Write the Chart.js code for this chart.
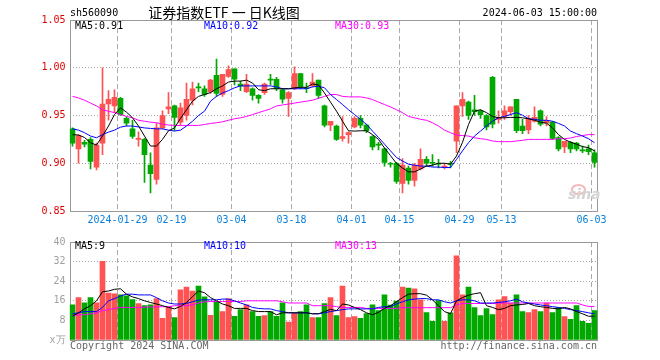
<!DOCTYPE html>
<html lang="zh">
<head>
<meta charset="UTF-8">
<title>证券指数ETF 日K线图</title>
<script src="https://cdn.jsdelivr.net/npm/chart.js@4/dist/chart.umd.min.js"></script>
<style>
  body { margin: 0; background: #fff; }
  #wrap { position: relative; width: 660px; height: 360px; overflow: hidden; }
  canvas { position: absolute; left: 0; }
  .t { position: absolute; font: 10px 'DejaVu Sans Mono', 'Liberation Mono', monospace; line-height: 12px; white-space: pre; }
  .eye { position: absolute; left: 571px; top: 184px; width: 11px; height: 7px; border: 2px solid #f6b8b8; border-radius: 50%; }
</style>
</head>
<body>
<div id="wrap">
  <canvas id="k" width="660" height="232" style="top:0"></canvas>
  <canvas id="v" width="660" height="128" style="top:232px"></canvas>

  <div class="t" style="left:70px;top:7px;color:#000">sh560090</div>
  <div class="t" style="left:224px;top:4px;transform:translateX(-50%);font:14px 'Noto Sans CJK SC',sans-serif;line-height:16px;color:#000">证券指数ETF 一 日K线图</div>
  <div class="t" style="right:63px;top:7px;color:#000">2024-06-03 15:00:00</div>

  <div class="t" style="left:75px;top:20px;color:#000">MA5:0.91</div>
  <div class="t" style="left:204px;top:20px;color:#0000ff">MA10:0.92</div>
  <div class="t" style="left:335px;top:20px;color:#ff00ff">MA30:0.93</div>

  <div class="eye"></div>
  <div class="t" style="left:568px;top:187px;font:italic bold 14px 'DejaVu Sans',sans-serif;line-height:14px;color:#d4d4d4">sina</div>

  <div class="t" style="left:75px;top:240px;color:#000">MA5:9</div>
  <div class="t" style="left:204px;top:240px;color:#0000ff">MA10:10</div>
  <div class="t" style="left:335px;top:240px;color:#ff00ff">MA30:13</div>

  <div class="t" style="left:70px;top:340px;color:#666">Copyright 2024 SINA.COM</div>
  <div class="t" style="right:63px;top:340px;color:#666">http://finance.sina.com.cn</div>
</div>

<script>
// trading days
const dates = ['2024-01-17','2024-01-18','2024-01-19','2024-01-22','2024-01-23','2024-01-24','2024-01-25','2024-01-26',
  '2024-01-29','2024-01-30','2024-01-31','2024-02-01','2024-02-02','2024-02-05','2024-02-06','2024-02-07','2024-02-08',
  '2024-02-19','2024-02-20','2024-02-21','2024-02-22','2024-02-23',
  '2024-02-26','2024-02-27','2024-02-28','2024-02-29','2024-03-01',
  '2024-03-04','2024-03-05','2024-03-06','2024-03-07','2024-03-08',
  '2024-03-11','2024-03-12','2024-03-13','2024-03-14','2024-03-15',
  '2024-03-18','2024-03-19','2024-03-20','2024-03-21','2024-03-22',
  '2024-03-25','2024-03-26','2024-03-27','2024-03-28','2024-03-29',
  '2024-04-01','2024-04-02','2024-04-03',
  '2024-04-08','2024-04-09','2024-04-10','2024-04-11','2024-04-12',
  '2024-04-15','2024-04-16','2024-04-17','2024-04-18','2024-04-19',
  '2024-04-22','2024-04-23','2024-04-24','2024-04-25','2024-04-26',
  '2024-04-29','2024-04-30',
  '2024-05-06','2024-05-07','2024-05-08','2024-05-09','2024-05-10',
  '2024-05-13','2024-05-14','2024-05-15','2024-05-16','2024-05-17',
  '2024-05-20','2024-05-21','2024-05-22','2024-05-23','2024-05-24',
  '2024-05-27','2024-05-28','2024-05-29','2024-05-30','2024-05-31',
  '2024-06-03'];

const tickDates = ['2024-01-29','2024-02-19','2024-03-04','2024-03-18','2024-04-01','2024-04-15','2024-04-29','2024-05-13','2024-06-03'];
const priceTicks = [0.85, 0.90, 0.95, 1.00, 1.05];
const volTicks = [0, 8, 16, 24, 32, 40];

const open = [0.936,0.915,0.922,0.925,0.896,0.921,0.962,0.960,
  0.968,0.947,0.936,0.925,0.925,0.898,0.883,0.937,0.957,
  0.960,0.943,0.950,0.966,0.980,
  0.978,0.975,0.992,0.972,0.991,
  0.999,0.983,0.975,0.978,0.971,
  0.974,0.988,0.988,0.977,0.968,
  0.978,0.994,0.979,0.981,0.987,
  0.960,0.940,0.939,0.926,0.930,
  0.938,0.947,0.940,
  0.928,0.920,0.915,0.900,0.900,
  0.879,0.895,0.882,0.894,0.904,
  0.901,0.900,0.896,0.900,0.923,
  0.960,0.964,
  0.956,0.955,0.950,0.990,0.946,
  0.949,0.954,0.967,0.939,0.935,
  0.944,0.955,0.942,0.943,0.927,
  0.917,0.922,0.921,0.914,0.915,
  0.911];
const high = [0.937,0.930,0.924,0.927,0.921,1.000,0.976,0.977,
  0.969,0.949,0.945,0.933,0.926,0.911,0.942,0.955,0.974,
  0.961,0.963,0.984,0.985,0.984,
  0.981,0.988,1.009,0.993,1.002,
  0.999,0.986,0.993,0.979,0.972,
  0.984,0.993,0.990,0.978,0.975,
  1.001,0.994,0.984,0.994,0.987,
  0.961,0.944,0.940,0.949,0.933,
  0.949,0.950,0.941,
  0.929,0.922,0.916,0.901,0.901,
  0.905,0.897,0.900,0.915,0.907,
  0.909,0.904,0.900,0.902,0.960,
  0.974,0.965,
  0.971,0.956,0.951,0.991,0.955,
  0.960,0.959,0.967,0.946,0.950,
  0.959,0.956,0.949,0.944,0.928,
  0.923,0.923,0.922,0.918,0.919,
  0.914];
const low = [0.918,0.900,0.917,0.894,0.893,0.909,0.945,0.953,
  0.950,0.939,0.926,0.918,0.880,0.869,0.878,0.936,0.952,
  0.934,0.940,0.945,0.961,0.975,
  0.970,0.973,0.970,0.970,0.990,
  0.982,0.976,0.974,0.966,0.963,
  0.972,0.982,0.976,0.963,0.949,
  0.977,0.978,0.974,0.980,0.968,
  0.938,0.934,0.924,0.923,0.921,
  0.937,0.937,0.932,
  0.914,0.914,0.897,0.896,0.879,
  0.869,0.878,0.876,0.893,0.897,
  0.897,0.895,0.894,0.895,0.911,
  0.949,0.946,
  0.950,0.947,0.935,0.937,0.942,
  0.946,0.950,0.932,0.931,0.931,
  0.943,0.939,0.939,0.925,0.913,
  0.911,0.911,0.913,0.911,0.909,
  0.896];
const close = [0.921,0.929,0.920,0.902,0.919,0.962,0.967,0.969,
  0.951,0.942,0.928,0.926,0.909,0.889,0.937,0.950,0.959,
  0.948,0.958,0.967,0.978,0.979,
  0.972,0.987,0.973,0.993,0.998,
  0.988,0.981,0.983,0.971,0.968,
  0.983,0.987,0.978,0.967,0.974,
  0.994,0.980,0.978,0.985,0.971,
  0.940,0.944,0.925,0.928,0.932,
  0.947,0.940,0.934,
  0.917,0.919,0.901,0.899,0.881,
  0.898,0.882,0.898,0.904,0.900,
  0.900,0.899,0.897,0.899,0.960,
  0.967,0.950,
  0.954,0.951,0.938,0.941,0.948,
  0.955,0.959,0.934,0.934,0.947,
  0.948,0.941,0.945,0.926,0.915,
  0.923,0.915,0.915,0.913,0.912,
  0.901];

const ma5 = [0.930,0.9295,0.927,0.9215,0.919,0.9285,0.939,0.951,
  0.958,0.9535,0.9476,0.939,0.9285,0.918,0.918,0.925,0.934,
  0.937,0.947,0.956,0.965,0.970,
  0.972,0.974,0.978,0.981,0.985,
  0.986,0.986,0.987,0.984,0.977,
  0.976,0.978,0.978,0.978,0.978,
  0.979,0.9795,0.9795,0.983,0.982,
  0.9736,0.964,0.9545,0.944,0.934,
  0.9337,0.934,0.934,
  0.930,0.925,0.916,0.908,0.8997,
  0.895,0.891,0.891,0.894,0.897,
  0.898,0.900,0.900,0.899,0.9076,
  0.922,0.9406,
  0.9545,0.956,0.953,0.949,0.9476,
  0.9476,0.948,0.948,0.9476,0.9466,
  0.945,0.943,0.942,0.937,0.930,
  0.925,0.922,0.920,0.9174,0.9163,
  0.913];
const ma10 = [0.936,0.9347,0.932,0.9285,0.9267,0.930,0.9326,0.9347,
  0.9378,0.939,0.939,0.938,0.937,0.9365,0.936,0.936,0.9347,
  0.9337,0.9347,0.939,0.944,0.950,
  0.9545,0.965,0.970,0.9736,0.976,
  0.979,0.981,0.981,0.981,0.981,
  0.981,0.981,0.980,0.978,0.978,
  0.978,0.978,0.978,0.980,0.9806,
  0.979,0.972,0.9667,0.9615,0.956,
  0.951,0.946,0.9406,
  0.9337,0.927,0.920,0.913,0.906,
  0.9024,0.899,0.898,0.897,0.897,
  0.896,0.896,0.8955,0.8955,0.904,
  0.913,0.9215,
  0.9285,0.9337,0.939,0.944,0.9476,
  0.949,0.951,0.953,0.9503,0.9466,
  0.946,0.945,0.945,0.944,0.9417,
  0.939,0.9337,0.931,0.9285,0.9257,
  0.9215];
const ma30 = [0.970,0.9684,0.966,0.963,0.960,0.956,0.9545,0.953,
  0.951,0.949,0.9476,0.945,0.944,0.943,0.9424,0.941,0.940,
  0.9396,0.9396,0.9396,0.9396,0.9396,
  0.9406,0.9417,0.9424,0.9434,0.945,
  0.9466,0.9476,0.949,0.951,0.953,
  0.955,0.957,0.960,0.961,0.962,
  0.963,0.964,0.965,0.966,0.968,
  0.970,0.972,0.972,0.970,0.9695,
  0.9695,0.9695,0.9684,
  0.9667,0.964,0.9615,0.959,0.956,
  0.953,0.949,0.9476,0.946,0.945,
  0.9424,0.939,0.9347,0.932,0.9295,
  0.929,0.9285,
  0.9267,0.9257,0.925,0.9233,0.9226,
  0.9226,0.9226,0.9233,0.924,0.925,
  0.925,0.925,0.925,0.925,0.9257,
  0.9257,0.9264,0.928,0.929,0.930,
  0.930];

// volume, 万
const vol = [14.4,17.3,15.2,17.3,15.2,32.1,19.2,18.8,
  18.4,18.0,16.5,14.9,14.0,14.4,16.9,8.8,13.6,
  9.2,20.5,21.6,20.0,22.0,
  17.6,10.1,15.7,11.6,16.8,
  9.7,12.4,14.4,11.6,9.7,
  10.0,11.6,9.7,15.2,7.3,
  10.9,11.6,14.4,9.2,9.2,
  14.9,17.3,10.0,22.0,9.2,
  9.6,8.8,10.8,
  14.4,12.0,18.4,14.3,15.9,
  21.6,21.2,20.9,16.4,11.2,
  7.6,16.1,7.6,11.1,34.4,
  18.4,21.6,
  13.2,10.0,12.8,10.4,16.4,
  17.7,15.1,18.4,11.6,11.2,
  12.4,11.6,15.1,11.2,13.2,
  9.6,8.4,14.0,7.6,6.8,
  12.0];
const vma5 = [9.7,11.1,12.7,14.0,16.0,19.7,20.0,20.7,
  20.9,18.7,17.6,16.9,16.0,15.3,14.7,14.0,13.3,
  12.7,13.7,15.3,17.7,20.0,
  19.3,17.3,16.0,14.7,14.0,
  12.9,12.9,12.9,12.0,11.6,
  11.6,11.6,10.3,11.1,11.1,
  11.1,11.1,11.1,10.7,10.7,
  11.6,12.5,12.0,14.7,14.3,
  13.3,12.4,11.1,
  10.3,11.3,12.9,14.0,15.6,
  17.3,18.7,18.9,18.9,18.3,
  16.4,14.0,11.6,10.7,16.0,
  17.3,18.3,
  18.9,19.3,14.0,13.3,12.4,
  12.9,14.0,14.3,14.5,14.9,
  14.0,13.6,13.3,12.9,12.7,
  13.3,12.7,11.6,10.7,9.7,
  9.7];
const vma10 = [10.7,11.1,11.6,11.6,11.6,13.3,16.0,16.9,
  18.0,18.7,18.7,18.4,18.4,18.4,17.3,16.0,15.1,
  14.7,14.7,14.9,15.6,16.3,
  16.4,16.4,16.4,16.7,16.7,
  16.0,15.1,14.3,13.3,12.9,
  12.7,12.7,12.0,11.6,11.1,
  11.1,11.1,11.1,10.7,10.7,
  11.1,11.6,12.0,12.4,12.7,
  12.7,12.7,12.7,
  12.7,13.3,13.6,13.6,14.7,
  15.6,16.4,16.7,16.9,16.9,
  16.4,16.4,15.6,15.1,16.0,
  16.4,16.4,
  16.0,15.1,15.1,15.1,15.3,
  15.6,16.0,16.7,15.6,15.1,
  14.7,14.3,14.0,13.6,13.3,
  12.9,12.4,12.0,11.6,11.1,
  10.7];
const vma30 = [10.0,10.3,10.3,10.7,11.1,12.0,12.4,12.9,
  13.3,13.3,13.3,13.3,13.4,13.5,13.5,13.6,13.6,
  14.0,14.0,14.0,14.4,15.1,
  15.6,15.7,15.7,15.7,15.7,
  15.7,15.7,16.0,16.0,16.0,
  16.0,16.0,16.0,15.6,15.1,
  15.1,15.1,15.1,14.0,14.0,
  14.0,14.0,13.6,13.3,13.3,
  13.3,13.3,12.9,
  12.9,12.9,12.9,12.9,12.9,
  13.2,13.2,13.2,13.2,13.2,
  13.2,13.2,13.2,13.2,14.3,
  14.9,14.9,
  14.9,14.9,14.9,14.9,15.1,
  15.1,15.1,15.1,15.1,15.1,
  15.1,15.1,15.1,15.1,15.1,
  15.1,15.1,15.1,14.3,13.7,
  13.7];

const MONO = "'DejaVu Sans Mono', 'Liberation Mono', monospace";
const RED = '#ff5252', GREEN = '#00a800';
const colors = close.map((c, i) => c >= open[i] ? RED : GREEN);
const gridIdx = tickDates.map(d => dates.indexOf(d));

// plot frame, drawn under the bars
const frame = {
  id: 'frame',
  beforeDatasetsDraw(chart) {
    const { ctx, chartArea: a } = chart;
    const x1 = Math.round(a.left) + 0.5, x2 = Math.floor(a.right) + 0.5;
    const y1 = Math.round(a.top) + 0.5, y2 = Math.round(a.bottom) + 0.5;
    ctx.save();
    ctx.strokeStyle = '#999';
    ctx.lineWidth = 1;
    ctx.strokeRect(x1, y1, x2 - x1, y2 - y1);
    ctx.restore();
  }
};

function xAxis(withLabels) {
  return {
    type: 'category',
    offset: true,
    afterFit: s => { s.height = withLabels ? 21 : 0; },
    grid: {
      offset: true, drawTicks: false, lineWidth: 1,
      color: c => gridIdx.includes(c.index) ? '#aaaaaa' : 'rgba(0,0,0,0)'
    },
    border: { display: false, dash: [5, 3] },
    ticks: {
      display: withLabels, autoSkip: false, maxRotation: 0, minRotation: 0,
      padding: 3, labelOffset: -3, color: '#0a80dc', font: { family: MONO, size: 10 },
      callback: (v, i) => {
        const d = dates[i];
        if (!tickDates.includes(d)) return '';
        return i === gridIdx[0] ? d : d.slice(5);
      }
    }
  };
}

function line(data, color) {
  return { type: 'line', data, borderColor: color, borderWidth: 1, pointRadius: 0, tension: 0, order: 0 };
}

const common = {
  responsive: false,
  animation: false,
  devicePixelRatio: 1,
  events: [],
  plugins: { legend: { display: false }, tooltip: { enabled: false } }
};

new Chart(document.getElementById('k'), {
  type: 'bar',
  data: {
    labels: dates,
    datasets: [
      line(ma5, '#000000'),
      line(ma10, '#0000ff'),
      line(ma30, '#ff00ff'),
      { data: low.map((l, i) => [l, high[i]]), backgroundColor: colors, barThickness: 1, grouped: false, order: 2 },
      { data: open.map((o, i) => [o, close[i]]), backgroundColor: colors, barThickness: 5, minBarLength: 1, grouped: false, order: 1 }
    ]
  },
  options: {
    ...common,
    layout: { autoPadding: false, padding: { left: 0, right: 62.5, top: 20, bottom: 0 } },
    scales: {
      x: xAxis(true),
      y: {
        min: 0.85, max: 1.05,
        afterFit: s => { s.width = 69.5; },
        afterBuildTicks: s => { s.ticks = priceTicks.map(v => ({ value: v })); },
        grid: { color: '#a8a8a8', drawTicks: false, lineWidth: 1 },
        border: { display: false, dash: [1, 2] },
        ticks: { color: '#e00000', padding: 4, font: { family: MONO, size: 10 }, callback: v => v.toFixed(2) }
      }
    }
  },
  plugins: [frame]
});

new Chart(document.getElementById('v'), {
  type: 'bar',
  data: {
    labels: dates,
    datasets: [
      line(vma5, '#000000'),
      line(vma10, '#0000ff'),
      line(vma30, '#ff00ff'),
      { data: vol, backgroundColor: colors, barThickness: 5, grouped: false, order: 1 }
    ]
  },
  options: {
    ...common,
    layout: { autoPadding: false, padding: { left: 0, right: 62.5, top: 8, bottom: 20 } },
    scales: {
      x: xAxis(false),
      y: {
        min: 0, max: 40,
        afterFit: s => { s.width = 69.5; },
        afterBuildTicks: s => { s.ticks = volTicks.map(v => ({ value: v })); },
        grid: { color: '#a8a8a8', drawTicks: false, lineWidth: 1 },
        border: { display: false, dash: [1, 2] },
        ticks: { color: '#a0a0a0', padding: 4, font: { family: MONO, size: 10 }, callback: v => v === 0 ? 'x万' : String(v) }
      }
    }
  },
  plugins: [frame]
});
</script>
</body>
</html>
